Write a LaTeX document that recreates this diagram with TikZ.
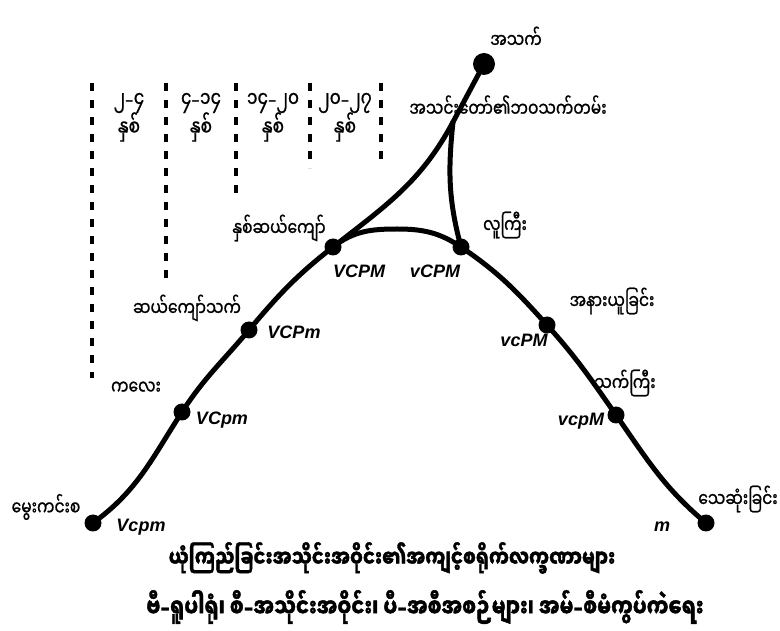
\documentclass[tikz,border=0pt]{standalone}
\usepackage{graphicx}
\usepackage{fontspec}
\newfontfamily\mm[Script=Myanmar,FakeBold=1]{Noto Sans Myanmar UI}
\newfontfamily\mmcap[Script=Myanmar,BoldFeatures={FakeBold=2}]{Noto Sans Myanmar UI}
\newfontfamily\latf{Liberation Sans}
\newfontfamily\dshf{DejaVu Sans}
\newcommand\dsh{{\dshf –}}
\newcommand\tall[1]{\scalebox{1}[1.3]{#1}}
\newcommand\taller[1]{\scalebox{1}[1.3]{#1}}
\begin{document}
\begin{tikzpicture}[x=1pt,y=1pt,
  dotn/.style={circle,fill=black,inner sep=0pt,minimum size=17pt},
  topdot/.style={circle,fill=black,inner sep=0pt,minimum size=22pt},
  curve/.style={line width=5pt,line cap=round},
  divline/.style={line width=3.5pt,dash pattern=on 8pt off 9pt},
  mmlab/.style={font=\mm\fontsize{15.5}{18}\selectfont,inner sep=0pt},
  yrlab/.style={font=\mm\fontsize{17}{20}\selectfont,inner sep=0pt},
  codelab/.style={font=\latf\bfseries\itshape\fontsize{18}{20}\selectfont,inner sep=0pt},
  caplab/.style={font=\mmcap\bfseries\fontsize{18}{22}\selectfont,inner sep=0pt}]
\useasboundingbox (0,0) rectangle (780,630);
\fill[white] (0,0) rectangle (780,630);
% dividers
\coordinate (d1t) at (92,547); \coordinate (d1b) at (92,252);
\coordinate (d2t) at (166,547); \coordinate (d2b) at (166,352);
\coordinate (d3t) at (236,547); \coordinate (d3b) at (236,430);
\coordinate (d4t) at (310,547); \coordinate (d4b) at (310,462);
\coordinate (d5t) at (381,547); \coordinate (d5b) at (381,468);
\foreach \i in {1,...,5} {\draw[divline] (d\i t) -- (d\i b);}
% curve points
\coordinate (pVcpm) at (93,107);
\coordinate (pVCpm) at (182,218);
\coordinate (pVCPm) at (249,300);
\coordinate (pVCPM) at (333,383);
\coordinate (peak) at (397,401);
\coordinate (pvCPM) at (461,383);
\coordinate (pvcPM) at (547,305);
\coordinate (pvcpM) at (616,215);
\coordinate (pm) at (706,107);
\coordinate (J) at (453,508);
\draw[curve] (pVcpm) to[out=36,in=237] (pVCpm) to[out=57,in=230] (pVCPm)
  to[out=50,in=218] (pVCPM) to[out=38,in=180] (peak) to[out=0,in=146] (pvCPM)
  to[out=-34,in=132] (pvcPM) to[out=-48,in=125] (pvcpM) to[out=-55,in=140] (pm);
\node[topdot] (top) at (484,566) {};
\draw[curve] (top.center) -- (J);
\draw[curve] (J) to[out=-118,in=38] (pVCPM);
\draw[curve] (J) to[out=-96,in=105] (pvCPM);
\foreach \n in {Vcpm,VCpm,VCPm,VCPM,vCPM,vcPM,vcpM,m} {\node[dotn] (\n) at (p\n) {};}
% year labels
\foreach \x/\t [count=\k] in {129/၂\dsh ၄,201/၄\dsh ၁၄,273/၁၄\dsh ၂၀,345/၂၀\dsh ၂၇} {
  \node[yrlab] (ya\k) at (\x,527) {\tall{\t}};
  \node[yrlab] (yb\k) at (\x,503) {\tall{နှစ်}};
}
% stage labels
\node[mmlab,anchor=south] (lage) at (516,582) {\tall{အသက်}};
\node[mmlab] (llife) at (508,524) {\tall{အသင်းတော်၏ဘဝသက်တမ်း}};
\node[mmlab] (l20) at (279,402) {\tall{နှစ်ဆယ်ကျော်}};
\node[mmlab] (ladult) at (505,405) {\tall{လူကြီး}};
\node[mmlab] (lteen) at (187,322) {\tall{ဆယ်ကျော်သက်}};
\node[mmlab] (lret) at (612,329) {\tall{အနားယူခြင်း}};
\node[mmlab] (lchild) at (136,242) {\tall{ကလေး}};
\node[mmlab] (lold) at (625,247) {\tall{သက်ကြီး}};
\node[mmlab] (lbirth) at (46,123) {\tall{မွေးကင်းစ}};
\node[mmlab] (ldeath) at (738,131) {\tall{သေဆုံးခြင်း}};
% code labels
\node[codelab] (cVcpm) at (141,103) {Vcpm};
\node[codelab] (cVCpm) at (222,210) {VCpm};
\node[codelab] (cVCPm) at (294,298) {VCPm};
\node[codelab] (cVCPM) at (359,359) {VCPM};
\node[codelab] (cvCPM) at (435,359) {vCPM};
\node[codelab] (cvcPM) at (524,290) {vcPM};
\node[codelab] (cvcpM) at (581,209) {vcpM};
\node[codelab] (cm) at (662,103) {m};
% caption
\node[caplab] (cap1) at (392,72) {\taller{ယုံကြည်ခြင်းအသိုင်းအဝိုင်း၏အကျင့်စရိုက်လက္ခဏာများ}};
\node[caplab,font=\mmcap\bfseries\fontsize{19.5}{22}\selectfont] (cap2) at (425,23) {\taller{ဗီ{\dshf\bfseries –}ရူပါရုံ၊ စီ{\dshf\bfseries –}အသိုင်းအဝိုင်း၊ ပီ{\dshf\bfseries –}အစီအစဉ်များ၊ အမ်{\dshf\bfseries –}စီမံကွပ်ကဲရေး}};
\end{tikzpicture}
\end{document}
